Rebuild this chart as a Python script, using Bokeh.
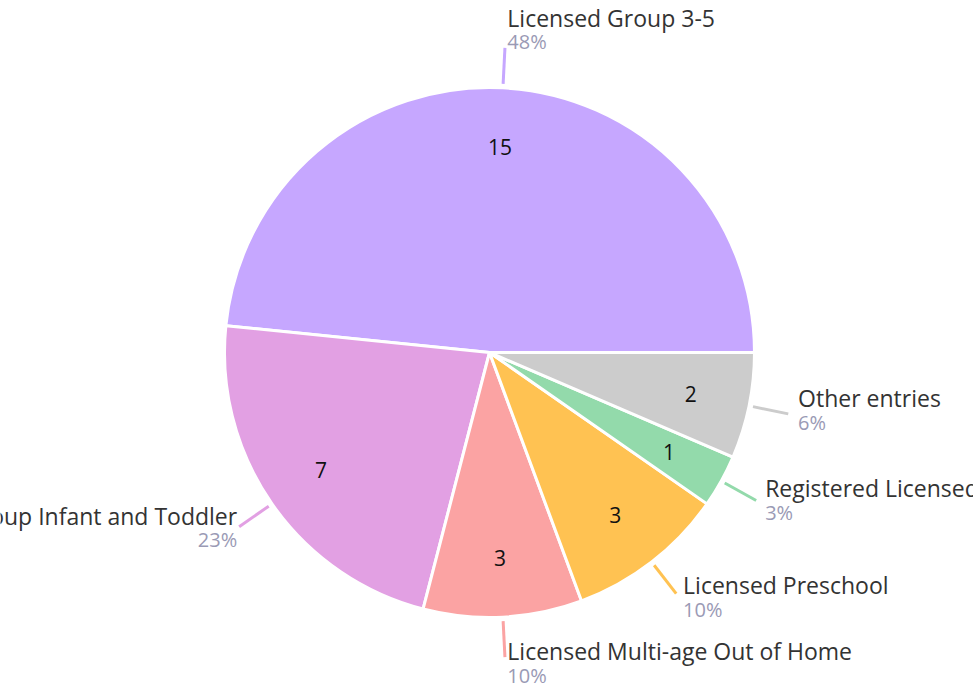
import math
from bokeh.plotting import figure
from bokeh.models import ColumnDataSource, Range1d
from bokeh.core.properties import value
from bokeh.embed import file_html
from bokeh.resources import INLINE

categories = ["Licensed Group 3-5", "Licensed Group Infant and Toddler",
              "Licensed Multi-age Out of Home", "Licensed Preschool",
              "Registered Licensed Family", "Other entries"]
counts = [15, 7, 3, 3, 1, 2]
colors = ["#C6A7FF", "#E2A0E3", "#FBA3A3", "#FFC252", "#93DAAB", "#CCCCCC"]

W, H = 973, 683
CX, CY = 489, 352          # pie centre in frame pixels (from top-left)
R = 265
FONT = "Open Sans"

total = sum(counts)
starts, ends, mids = [], [], []
acc = 0.0
for c in counts:
    a0 = acc / total * 2 * math.pi
    acc += c
    a1 = acc / total * 2 * math.pi
    starts.append(a0); ends.append(a1); mids.append((a0 + a1) / 2)

pcts = [f"{round(c / total * 100)}%" for c in counts]

p = figure(width=W, height=H, output_backend="svg", toolbar_location=None,
           x_axis_type=None, y_axis_type=None, min_border=0,
           x_range=Range1d(-CX, W - CX), y_range=Range1d(-(H - CY), CY))
p.outline_line_color = None
p.grid.visible = False
p.background_fill_color = "white"
p.border_fill_color = "white"

src = ColumnDataSource(dict(start=starts, end=ends, color=colors))
p.wedge(x=0, y=0, radius=R, start_angle="start", end_angle="end",
        fill_color="color", line_color="white", line_width=3, source=src)

# value labels inside slices
lab = ColumnDataSource(dict(x=[0.775 * R * math.cos(m) for m in mids],
                            y=[0.775 * R * math.sin(m) for m in mids],
                            t=[str(c) for c in counts]))
p.text(x="x", y="y", text="t", source=lab, text_font=value(FONT),
       text_font_size="21px", text_align="center", text_baseline="middle",
       text_color="#111111")

# leader lines
r0, r1 = R + 4, R + 40
xs = [[r0 * math.cos(m), r1 * math.cos(m)] for m in mids]
ys = [[r0 * math.sin(m), r1 * math.sin(m)] for m in mids]
p.multi_line(xs=xs, ys=ys, line_color=colors, line_width=3)

# outer labels
nx, ny, px_, py_, al = [], [], [], [], []
for m in mids:
    ex, ey = r1 * math.cos(m), r1 * math.sin(m)
    c, s = math.cos(m), math.sin(m)
    if c >= -0.1:
        xo = 2 + 8 * max(c, 0)
        a = "left"
    else:
        xo = -2
        a = "right"
    yn = ey + 18 + 12 * s
    nx.append(ex + xo); ny.append(yn)
    px_.append(ex + xo); py_.append(yn - 24)
    al.append(a)

ns = ColumnDataSource(dict(x=nx, y=ny, t=categories, a=al))
ps = ColumnDataSource(dict(x=px_, y=py_, t=pcts, a=al))
p.text(x="x", y="y", text="t", source=ns, text_font=value(FONT),
       text_font_size="23px", text_align="a", text_baseline="middle",
       text_color="#333333")
p.text(x="x", y="y", text="t", source=ps, text_font=value(FONT),
       text_font_size="20px", text_align="a", text_baseline="middle",
       text_color="#9A9AB5")

open("out.html", "w").write(file_html(p, INLINE))
